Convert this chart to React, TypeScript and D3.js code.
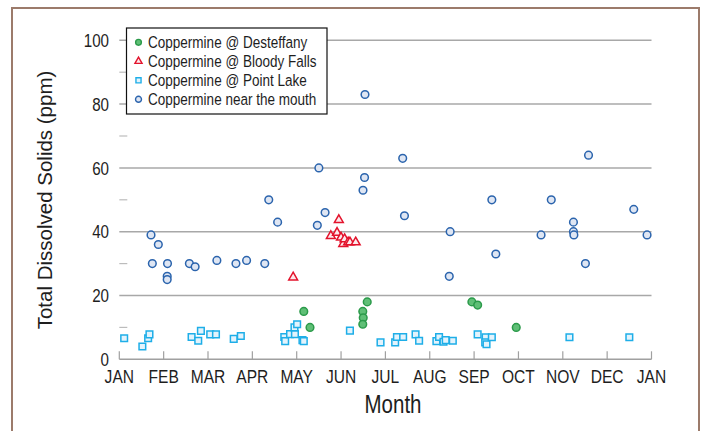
import React from "react";
import * as d3 from "d3";

// x values are in months since Jan 1 (0 = JAN, 12 = next JAN)
const monthLabels = ["JAN", "FEB", "MAR", "APR", "MAY", "JUN", "JUL", "AUG", "SEP", "OCT", "NOV", "DEC", "JAN"];
const yMajorTicks = [0, 20, 40, 60, 80, 100];
const yMinorTicks = [10, 30, 50, 70, 90];

const desteffany: [number, number][] = [
  [4.16, 15], [4.3, 10], [5.49, 15], [5.5, 13], [5.49, 11], [5.59, 18],
  [7.95, 18], [8.08, 17], [8.95, 10],
];

const bloodyFalls: [number, number][] = [
  [3.92, 26], [4.77, 39], [4.91, 40], [4.95, 44], [5.0, 38.5], [5.05, 36.5],
  [5.08, 38], [5.16, 37], [5.2, 37], [5.33, 37],
];

const pointLake: [number, number][] = [
  [0.11, 6.6], [0.52, 4], [0.65, 6.6], [0.68, 7.8], [1.63, 7], [1.78, 5.8],
  [1.84, 8.9], [2.05, 7.8], [2.18, 7.8], [2.58, 6.4], [2.74, 7.3],
  [3.72, 7], [3.74, 5.7], [3.85, 7.9], [3.96, 7.9], [3.95, 10], [4.01, 11],
  [4.13, 6], [4.16, 5.7], [5.2, 9], [5.89, 5.3], [6.22, 5.3], [6.26, 7],
  [6.4, 7], [6.68, 7.8], [6.76, 5.8], [7.15, 5.7], [7.21, 7], [7.31, 5.5],
  [7.36, 6], [7.52, 5.8], [8.08, 7.8], [8.26, 6.9], [8.25, 5.3], [8.28, 4.7],
  [8.4, 6.9], [10.15, 6.9], [11.5, 6.9],
];

const nearMouth: [number, number][] = [
  [0.715, 39], [0.88, 36], [0.745, 30], [1.087, 30], [1.08, 26], [1.08, 25],
  [1.58, 30], [1.71, 29], [2.2, 31], [2.63, 30], [2.87, 31], [3.28, 30],
  [3.37, 50], [3.57, 43], [4.465, 42], [4.5, 60], [4.64, 46], [5.495, 53],
  [5.53, 57], [5.54, 83], [6.39, 63], [6.43, 45], [7.44, 26], [7.46, 40],
  [8.4, 50], [8.49, 33], [9.51, 39], [9.74, 50], [10.24, 43], [10.24, 40],
  [10.25, 39], [10.51, 30], [10.58, 64], [11.6, 47], [11.9, 39],
];

const seriesNames = [
  "Coppermine @ Desteffany",
  "Coppermine @ Bloody Falls",
  "Coppermine @ Point Lake",
  "Coppermine near the mouth",
];

const sans = "'Liberation Sans', Arial, Helvetica, sans-serif";
const SQ = 0.82; // horizontal squeeze to mimic a condensed face

function NarrowText(props: {
  x: number;
  y: number;
  size: number;
  anchor?: "start" | "middle" | "end";
  children: React.ReactNode;
}) {
  return (
    <text
      transform={`translate(${props.x},${props.y}) scale(${SQ},1)`}
      textAnchor={props.anchor || "start"}
      fontFamily={sans}
      fontSize={props.size}
      fill="#1e1e1e"
    >
      {props.children}
    </text>
  );
}

export default function App() {
  const W = 701;
  const H = 431;
  const x = d3.scaleLinear().domain([0, 12]).range([119.3, 651.5]);
  const y = d3.scaleLinear().domain([0, 100]).range([359.3, 40.3]);

  const styles = [
    { type: d3.symbolCircle, size: 46, fill: "#5fbf76", stroke: "#2b9a4a", data: desteffany },
    { type: d3.symbolTriangle, size: 34, fill: "#fde9ec", stroke: "#e3132c", data: bloodyFalls },
    { type: d3.symbolSquare, size: 44, fill: "#e3f3fc", stroke: "#1eaee8", data: pointLake },
    { type: d3.symbolCircle, size: 46, fill: "#dfe6f3", stroke: "#2b64ad", data: nearMouth },
  ];

  const legendSizes = [26, 22, 26, 28];

  // draw order: point lake, mouth, desteffany, bloody falls
  const drawOrder = [2, 3, 0, 1];

  return (
    <div style={{ position: "absolute", left: 0, top: 0, width: W, height: H, background: "#fff" }}>
      <svg width={W} height={H} style={{ display: "block" }}>
        <rect x={0} y={0} width={W} height={H} fill="#fff" />
        <rect x={12} y={8} width={687} height={440} fill="none" stroke="#9c7b6b" strokeWidth={2} />

        {/* gridlines */}
        {yMajorTicks.filter((t) => t > 0).map((t) => (
          <line key={"g" + t} x1={x(0)} x2={x(12)} y1={y(t)} y2={y(t)} stroke="#a8a8a8" strokeWidth={1.5} />
        ))}
        {yMinorTicks.map((t) => (
          <line key={"m" + t} x1={x(0)} x2={x(0) + 8} y1={y(t)} y2={y(t)} stroke="#bcbcbc" strokeWidth={1.2} />
        ))}

        {/* x axis */}
        <line x1={x(0)} x2={x(12)} y1={y(0)} y2={y(0)} stroke="#a0a0a0" strokeWidth={1.5} />
        {monthLabels.map((m, i) => (
          <g key={"xt" + i}>
            <line x1={x(i)} x2={x(i)} y1={y(0)} y2={y(0) - 8} stroke="#a0a0a0" strokeWidth={1.2} />
            <NarrowText x={x(i)} y={383} size={19} anchor="middle">
              {m}
            </NarrowText>
          </g>
        ))}

        {/* y tick labels */}
        {yMajorTicks.map((t) => (
          <NarrowText key={"yt" + t} x={109} y={y(t) + 6.6} size={18.5} anchor="end">
            {t}
          </NarrowText>
        ))}

        {/* axis titles */}
        <NarrowText x={393} y={413} size={25} anchor="middle">
          Month
        </NarrowText>
        <text
          transform={`translate(52,200) rotate(-90)`}
          textAnchor="middle"
          fontFamily={sans}
          fontSize={20.5}
          fill="#1e1e1e"
        >
          Total Dissolved Solids (ppm)
        </text>

        {/* points */}
        {drawOrder.map((si) => {
          const s = styles[si];
          const path = d3.symbol().type(s.type).size(s.size)() as string;
          return (
            <g key={"s" + si}>
              {s.data.map((d, j) => (
                <path
                  key={j}
                  d={path}
                  transform={`translate(${x(d[0])},${y(d[1]) + (si === 1 ? 1 : 0)})`}
                  fill={s.fill}
                  stroke={s.stroke}
                  strokeWidth={1.5}
                />
              ))}
            </g>
          );
        })}

        {/* legend */}
        <rect x={126.5} y={28} width={200.5} height={86} fill="#fff" stroke="#111" strokeWidth={1.2} />
        {seriesNames.map((name, i) => {
          const s = styles[i];
          const ly = 42.3 + i * 19;
          const path = d3.symbol().type(s.type).size(legendSizes[i])() as string;
          return (
            <g key={"l" + i}>
              <path d={path} transform={`translate(138.5,${ly})`} fill={s.fill} stroke={s.stroke} strokeWidth={1.4} />
              <NarrowText x={148} y={ly + 6} size={16.5}>
                {name}
              </NarrowText>
            </g>
          );
        })}
      </svg>
    </div>
  );
}
